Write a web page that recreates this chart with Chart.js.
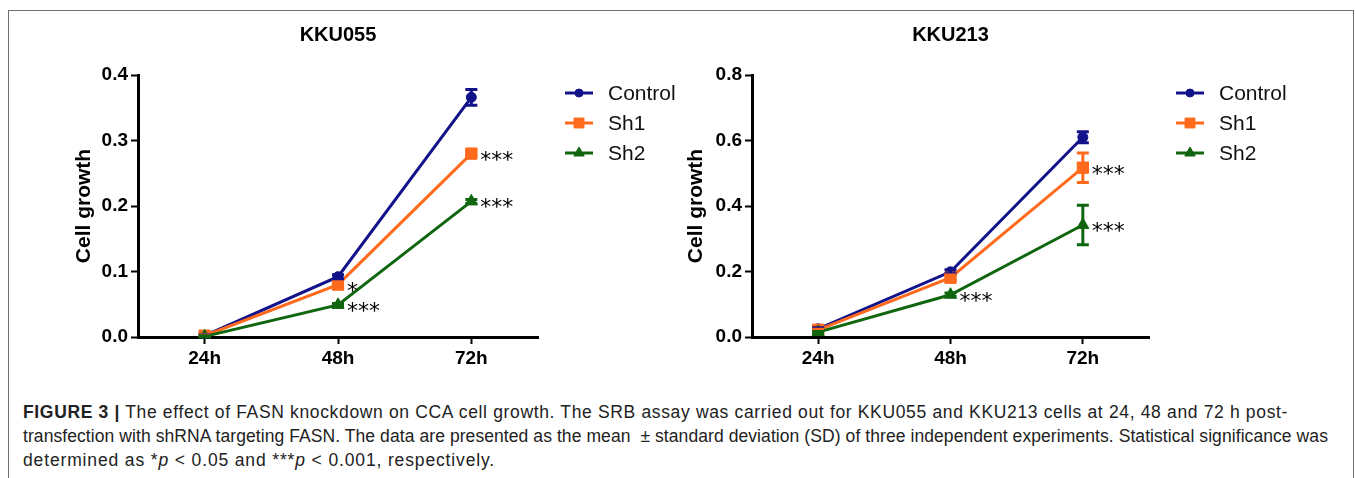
<!DOCTYPE html>
<html>
<head>
<meta charset="utf-8">
<script src="https://cdn.jsdelivr.net/npm/chart.js@4.4.1/dist/chart.umd.min.js"></script>
<style>
  body { margin:0; background:#fff; width:1355px; height:478px; overflow:hidden; position:relative; font-family:"Liberation Sans", Arial, sans-serif; }
  .frame { position:absolute; left:8px; top:10px; width:1346px; height:500px; border:1px solid #6e6e6e; box-sizing:border-box; }
  #c1 { position:absolute; left:0; top:0; }
  #c2 { position:absolute; left:680px; top:0; }
  .cap { position:absolute; left:23px; font-size:17.5px; line-height:24px; color:#222; white-space:nowrap; }
  .cap b { font-weight:bold; }
</style>
</head>
<body>
<div class="frame"></div>
<canvas id="c1" width="680" height="380"></canvas>
<canvas id="c2" width="675" height="380"></canvas>
<div class="cap" style="top:400px" data-right="1288"><b>FIGURE 3 |</b> The effect of FASN knockdown on CCA cell growth. The SRB assay was carried out for KKU055 and KKU213 cells at 24, 48 and 72 h post-</div>
<div class="cap" style="top:424px" data-right="1328">transfection with shRNA targeting FASN. The data are presented as the mean &nbsp;± standard deviation (SD) of three independent experiments. Statistical significance was</div>
<div class="cap" style="top:448px" data-right="495">determined as *<i>p</i> &lt; 0.05 and ***<i>p</i> &lt; 0.001, respectively.</div>
<script>
// timepoints + series names
const timepoints = ['24h', '48h', '72h'];
const seriesNames = ['Control', 'Sh1', 'Sh2'];

// KKU055
const kku055Control = [0.002, 0.092, 0.366];
const kku055Sh1     = [0.002, 0.080, 0.280];
const kku055Sh2     = [0.001, 0.049, 0.207];
const kku055ControlErr = [0.002, 0.003, 0.012];
const kku055Sh1Err     = [0.001, 0.003, 0.004];
const kku055Sh2Err     = [0.001, 0.002, 0.003];
const kku055Sh1Sig = ['', '*', '***'];
const kku055Sh2Sig = ['', '***', '***'];
const kku055Ticks = [0, 0.1, 0.2, 0.3, 0.4];

// KKU213
const kku213Control = [0.025, 0.199, 0.610];
const kku213Sh1     = [0.022, 0.181, 0.517];
const kku213Sh2     = [0.015, 0.129, 0.342];
const kku213ControlErr = [0.003, 0.006, 0.017];
const kku213Sh1Err     = [0.002, 0.008, 0.045];
const kku213Sh2Err     = [0.002, 0.005, 0.060];
const kku213Sh1Sig = ['', '', '***'];
const kku213Sh2Sig = ['', '***', '***'];
const kku213Ticks = [0, 0.2, 0.4, 0.6, 0.8];

const COLORS = ['#12128a', '#ff6a1c', '#0f660f'];
const STYLES = [
  { pointStyle: 'circle',   pointRadius: 5 },
  { pointStyle: 'rect',     pointRadius: 8 },
  { pointStyle: 'triangle', pointRadius: 7 }
];
const FONT = '"Liberation Sans", Arial, sans-serif';
Chart.defaults.font.family = FONT;

// caption lines stretched to the reference line ends
document.querySelectorAll('.cap').forEach(el => {
  const target = +el.dataset.right - 23;
  const chars = el.textContent.length;
  const w = el.getBoundingClientRect().width;
  el.style.letterSpacing = ((target - w) / chars).toFixed(3) + 'px';
});

// error bars, drawn on top of the lines
const errorBars = {
  id: 'errorBars',
  afterDatasetsDraw(chart){
    const {ctx, scales:{y}} = chart;
    chart.data.datasets.forEach((ds, i) => {
      const meta = chart.getDatasetMeta(i);
      ctx.save();
      ctx.strokeStyle = ds.borderColor;
      ctx.lineWidth = 3;
      meta.data.forEach((pt, j) => {
        const e = ds.errors[j];
        if(!e) return;
        const yt = y.getPixelForValue(ds.data[j] + e);
        const yb = y.getPixelForValue(ds.data[j] - e);
        ctx.beginPath();
        ctx.moveTo(pt.x, yt); ctx.lineTo(pt.x, yb);
        ctx.moveTo(pt.x - 6, yt); ctx.lineTo(pt.x + 6, yt);
        ctx.moveTo(pt.x - 6, yb); ctx.lineTo(pt.x + 6, yb);
        ctx.stroke();
      });
      ctx.restore();
    });
  }
};

// significance stars next to points
const sigStars = {
  id: 'sigStars',
  afterDatasetsDraw(chart){
    const {ctx} = chart;
    chart.data.datasets.forEach((ds, i) => {
      if(!ds.sig) return;
      const meta = chart.getDatasetMeta(i);
      ctx.save();
      ctx.font = '22px "DejaVu Sans"';
      ctx.fillStyle = '#000';
      ctx.textBaseline = 'alphabetic';
      meta.data.forEach((pt, j) => {
        if(ds.sig[j]) ctx.fillText(ds.sig[j], pt.x + 9, pt.y + 13);
      });
      ctx.restore();
    });
  }
};

// title centred over the plot area + legend at the right
const panelDecor = {
  id: 'panelDecor',
  afterDraw(chart, args, opts){
    const {ctx, chartArea} = chart;
    ctx.save();
    ctx.font = 'bold 20px ' + FONT;
    ctx.fillStyle = '#000';
    ctx.textAlign = 'center';
    ctx.textBaseline = 'middle';
    ctx.fillText(opts.title, (chartArea.left + chartArea.right) / 2, 35);

    const x0 = chartArea.right + 27;
    chart.data.datasets.forEach((ds, i) => {
      const y = chartArea.top + 18 + i * 30;
      ctx.strokeStyle = ds.borderColor;
      ctx.fillStyle = ds.borderColor;
      ctx.lineWidth = 3;
      ctx.beginPath(); ctx.moveTo(x0, y); ctx.lineTo(x0 + 28, y); ctx.stroke();
      ctx.lineWidth = 1;
      Chart.helpers.drawPoint(ctx, {pointStyle: ds.pointStyle, radius: ds.pointRadius - 1, borderWidth: 1, rotation: 0}, x0 + 14, y);
      ctx.font = '21px ' + FONT;
      ctx.fillStyle = '#111';
      ctx.textAlign = 'left';
      ctx.fillText(ds.label, x0 + 43, y + 1);
    });
    ctx.restore();
  }
};

function makeDatasets(values, errs, sigs){
  return values.map((v, i) => ({
    label: seriesNames[i],
    data: v,
    errors: errs[i],
    sig: sigs[i],
    borderColor: COLORS[i],
    backgroundColor: COLORS[i],
    pointBackgroundColor: COLORS[i],
    pointBorderColor: COLORS[i],
    pointBorderWidth: 1,
    borderWidth: 3,
    tension: 0,
    order: 2 - i,
    pointStyle: STYLES[i].pointStyle,
    pointRadius: STYLES[i].pointRadius
  }));
}

function makeChart(id, title, datasets, yTicks, yWidth, titlePad, rightPad){
  const tickFont = { family: FONT, size: 19, weight: 'bold' };
  return new Chart(document.getElementById(id), {
    type: 'line',
    data: { labels: timepoints, datasets },
    options: {
      responsive: false,
      animation: false,
      layout: { padding: { top: 75, right: rightPad, bottom: 0, left: 0 } },
      plugins: { legend: { display: false }, tooltip: { enabled: false }, panelDecor: { title } },
      scales: {
        x: {
          type: 'category',
          offset: true,
          grid: { drawOnChartArea: false, tickLength: 7, tickWidth: 2, tickColor: '#000' },
          border: { color: '#000', width: 3 },
          ticks: { color: '#000', font: tickFont, padding: 3, maxRotation: 0 },
          afterFit: s => { s.height = 43; }
        },
        y: {
          min: yTicks[0],
          max: yTicks[yTicks.length - 1],
          afterBuildTicks: s => { s.ticks = yTicks.map(v => ({ value: v })); },
          grid: { drawOnChartArea: false, tickLength: 7, tickWidth: 2, tickColor: '#000' },
          border: { color: '#000', width: 3 },
          ticks: { color: '#000', font: tickFont, padding: 3, callback: v => Number(v).toFixed(1) },
          title: { display: true, text: 'Cell growth', color: '#000', font: { family: FONT, size: 21, weight: 'bold' }, padding: { top: titlePad, bottom: 0 } },
          afterFit: s => { s.width = yWidth; }
        }
      }
    },
    plugins: [errorBars, sigStars, panelDecor]
  });
}

makeChart('c1', 'KKU055',
  makeDatasets([kku055Control, kku055Sh1, kku055Sh2],
               [kku055ControlErr, kku055Sh1Err, kku055Sh2Err],
               [null, kku055Sh1Sig, kku055Sh2Sig]),
  kku055Ticks, 138, 72, 142);

makeChart('c2', 'KKU213',
  makeDatasets([kku213Control, kku213Sh1, kku213Sh2],
               [kku213ControlErr, kku213Sh1Err, kku213Sh2Err],
               [null, kku213Sh1Sig, kku213Sh2Sig]),
  kku213Ticks, 72, 4, 206);
</script>
</body>
</html>
